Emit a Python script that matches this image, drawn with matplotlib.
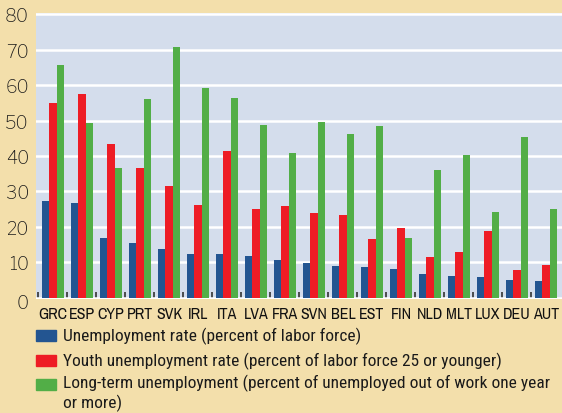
import matplotlib
matplotlib.use("Agg")
import matplotlib.pyplot as plt
from matplotlib.patches import Rectangle
import matplotlib.transforms as mtransforms
import numpy as np

countries = ["GRC", "ESP", "CYP", "PRT", "SVK", "IRL", "ITA", "LVA", "FRA",
             "SVN", "BEL", "EST", "FIN", "NLD", "MLT", "LUX", "DEU", "AUT"]
unemployment = [27.4, 26.8, 17.0, 15.5, 13.9, 12.4, 12.4, 11.9, 10.8,
                9.9, 9.1, 8.8, 8.2, 6.8, 6.3, 6.0, 5.1, 4.8]
youth = [55.0, 57.5, 43.4, 36.7, 31.6, 26.3, 41.5, 25.2, 26.0,
         24.0, 23.4, 16.7, 19.8, 11.6, 13.0, 18.9, 7.9, 9.4]
long_term = [65.7, 49.4, 36.7, 56.1, 70.8, 59.2, 56.4, 48.8, 40.9,
             49.6, 46.3, 48.5, 17.0, 36.1, 40.3, 24.3, 45.4, 25.1]
legend_labels = ["Unemployment rate (percent of labor force)",
                 "Youth unemployment rate (percent of labor force 25 or younger)",
                 "Long-term unemployment (percent of unemployed out of work one year\nor more)"]
yticks = [0, 10, 20, 30, 40, 50, 60, 70, 80]

BLUE = "#235591"
RED = "#ee1c25"
GREEN = "#52ae47"
BG = "#d4ddec"
BEIGE = "#f3dfab"

NARROW = ["Roboto Condensed", "Archivo Narrow", "DejaVu Sans"]
CAT = ["Archivo Narrow", "DejaVu Sans"]
NUMF = ["Libre Franklin", "DejaVu Sans"]

fig = plt.figure(figsize=(5.62, 4.14), dpi=100, facecolor=BEIGE)
ax = fig.add_axes([36/562, 1 - 300/414, 1 - 36/562, (300 - 14)/414])
ax.set_facecolor(BG)

x = np.arange(len(countries))
w = 0.252
ax.bar(x - w, unemployment, w, color=BLUE, zorder=3)
ax.bar(x, youth, w, color=RED, zorder=3)
ax.bar(x + w, long_term, w, color=GREEN, zorder=3)

ax.set_xlim(-0.586, 17.552)
ax.set_ylim(-0.3, 80.3)
ax.set_yticks(yticks)
ax.set_yticklabels([str(v) for v in yticks], fontsize=13, color="#1a1a1a",
                   family=NUMF)
ax.tick_params(axis="y", length=0, pad=5)
ax.yaxis.grid(True, color="white", linewidth=1.8, zorder=1)
ax.set_axisbelow(True)
# the zero label sits a little lower in the reference
zlab = ax.get_yticklabels()[0]
zlab.set_transform(zlab.get_transform() +
                   mtransforms.ScaledTranslation(0, -3/100, fig.dpi_scale_trans))

ax.set_xticks(x)
ax.set_xticklabels(countries, fontsize=11.5, family=CAT, color="#111111")
ax.tick_params(axis="x", length=0, pad=5)
ax.set_xticks(x - 0.5, minor=True)
ax.tick_params(axis="x", which="minor", direction="in", length=5, width=1.2,
               color="#333333")
for s in ax.spines.values():
    s.set_visible(False)

# legend
ys = [336, 361, 385]
cols = [BLUE, RED, GREEN]
for yy, c, lab in zip(ys, cols, legend_labels):
    fig.add_artist(Rectangle((36/562, 1 - (yy + 5.5)/414), 20/562, 11/414,
                             transform=fig.transFigure, color=c))
    if "\n" in lab:
        fig.text(63/562, 1 - (yy - 10)/414, lab, fontsize=12.5, family=NARROW,
                 color="#1a1a1a", va="top", linespacing=1.15)
    else:
        fig.text(63/562, 1 - yy/414, lab, fontsize=12.5, family=NARROW,
                 color="#1a1a1a", va="center")

fig.savefig("out.png", dpi=100, facecolor=BEIGE)
